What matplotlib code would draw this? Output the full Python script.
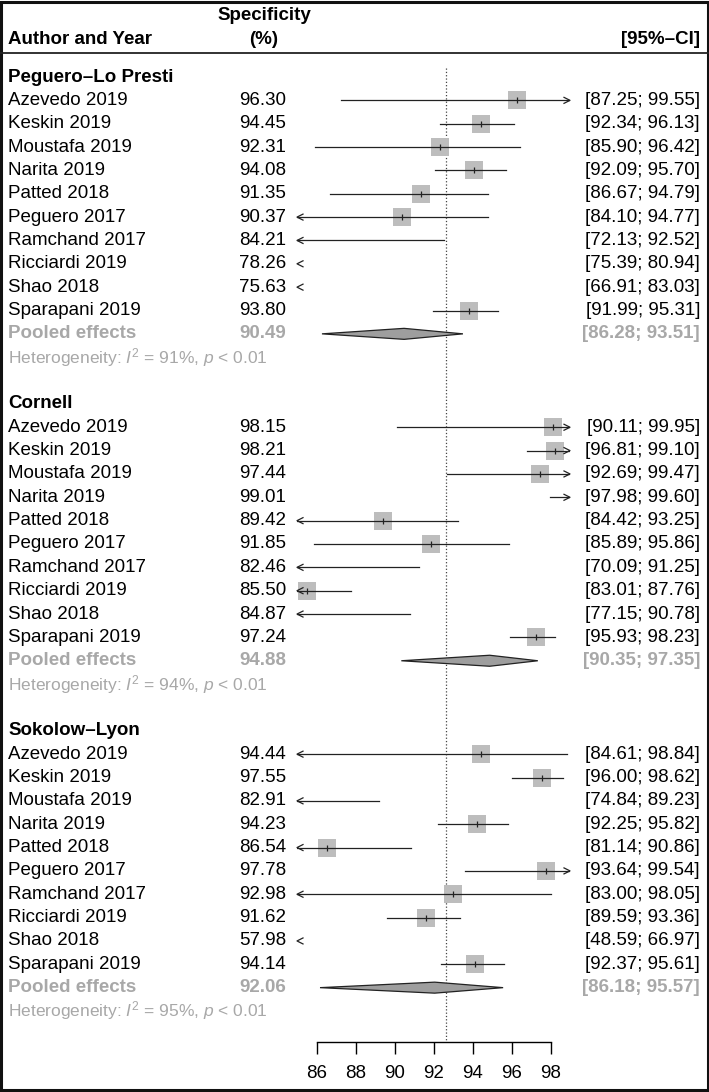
import matplotlib
matplotlib.use("Agg")
import matplotlib.pyplot as plt
from matplotlib.patches import Polygon, Rectangle
from matplotlib.transforms import blended_transform_factory

plt.rcParams['font.family'] = ['Liberation Sans', 'DejaVu Sans']
plt.rcParams['mathtext.fontset'] = 'custom'
plt.rcParams['mathtext.rm'] = 'Liberation Sans'
plt.rcParams['mathtext.it'] = 'Liberation Sans:italic'

# Data
studies = ['Azevedo 2019', 'Keskin 2019', 'Moustafa 2019', 'Narita 2019', 'Patted 2018',
           'Peguero 2017', 'Ramchand 2017', 'Ricciardi 2019', 'Shao 2018', 'Sparapani 2019']
groups = ['Peguero–Lo Presti', 'Cornell', 'Sokolow–Lyon']

peguero_est = [96.30, 94.45, 92.31, 94.08, 91.35, 90.37, 84.21, 78.26, 75.63, 93.80]
peguero_lo = [87.25, 92.34, 85.90, 92.09, 86.67, 84.10, 72.13, 75.39, 66.91, 91.99]
peguero_hi = [99.55, 96.13, 96.42, 95.70, 94.79, 94.77, 92.52, 80.94, 83.03, 95.31]

cornell_est = [98.15, 98.21, 97.44, 99.01, 89.42, 91.85, 82.46, 85.50, 84.87, 97.24]
cornell_lo = [90.11, 96.81, 92.69, 97.98, 84.42, 85.89, 70.09, 83.01, 77.15, 95.93]
cornell_hi = [99.95, 99.10, 99.47, 99.60, 93.25, 95.86, 91.25, 87.76, 90.78, 98.23]

sokolow_est = [94.44, 97.55, 82.91, 94.23, 86.54, 97.78, 92.98, 91.62, 57.98, 94.14]
sokolow_lo = [84.61, 96.00, 74.84, 92.25, 81.14, 93.64, 83.00, 89.59, 48.59, 92.37]
sokolow_hi = [98.84, 98.62, 89.23, 95.82, 90.86, 99.54, 98.05, 93.36, 66.97, 95.61]

pooled_est = [90.49, 94.88, 92.06]
pooled_lo = [86.28, 90.35, 86.18]
pooled_hi = [93.51, 97.35, 95.57]
i2 = [91, 94, 95]

ref_line = 92.65
xticks = [86, 88, 90, 92, 94, 96, 98]

group_data = [(peguero_est, peguero_lo, peguero_hi),
              (cornell_est, cornell_lo, cornell_hi),
              (sokolow_est, sokolow_lo, sokolow_hi)]

# Layout (pixels)
W, H = 709, 1092
ROW0, ROW_PX = 77, 23.35
X_LO, X_HI = 85, 99
PX_LEFT, PX_RIGHT = 297, 570
PX_TOP, PX_BOT = 60, 1042
px_per_x = (PX_RIGHT - PX_LEFT) / (X_HI - X_LO)

def r_of(py):
    return (py - ROW0) / ROW_PX

fig = plt.figure(figsize=(W / 100, H / 100), dpi=100)
ax = fig.add_axes([PX_LEFT / W, 1 - PX_BOT / H, (PX_RIGHT - PX_LEFT) / W, (PX_BOT - PX_TOP) / H])
ax.set_xlim(X_LO, X_HI)
ax.set_ylim(r_of(PX_BOT), r_of(PX_TOP))
for s in ['top', 'left', 'right']:
    ax.spines[s].set_visible(False)
ax.spines['bottom'].set_bounds(86, 98)
ax.spines['bottom'].set_linewidth(1.0)
ax.set_yticks([])
ax.set_xticks(xticks)
ax.tick_params(axis='x', direction='out', length=8.6, width=1.0, pad=8, labelsize=13.5)
ax.patch.set_visible(False)

ax.plot([ref_line, ref_line], [r_of(68), r_of(PX_BOT)], linestyle=':', color='#444444', lw=0.9, zorder=1)

tr = blended_transform_factory(fig.transFigure, ax.transData)
FS = 13.5
GREY = '#A8A8A8'
x_lab, x_val, x_ci = 8 / W, 239 / W, 700 / W

hx = 6 / px_per_x
hy = 3 / ROW_PX

def arrow_head(x, r, direction):
    ax.plot([x - direction * hx, x, x - direction * hx], [r - hy, r, r + hy],
            color='#222222', lw=0.9, clip_on=False, zorder=3)

# header
fig.text(x_lab, -1.585, 'Author and Year', transform=tr, fontsize=FS, fontweight='bold', va='center')
fig.text(264 / W, -2.655, 'Specificity', transform=tr, fontsize=FS, fontweight='bold', va='center', ha='center')
fig.text(264 / W, -1.585, '(%)', transform=tr, fontsize=FS, fontweight='bold', va='center', ha='center')
fig.text(x_ci, -1.585, '[95%–CI]', transform=tr, fontsize=FS, fontweight='bold', va='center', ha='right')
fig.add_artist(plt.Line2D([0, 1], [1 - 53 / H, 1 - 53 / H], transform=fig.transFigure, color='#222222', lw=1.3))

for g, (name, (est, lo, hi)) in enumerate(zip(groups, group_data)):
    base = g * 14
    fig.text(x_lab, base, name, transform=tr, fontsize=FS, fontweight='bold', va='center')
    for i, study in enumerate(studies):
        r = base + 1 + i
        fig.text(x_lab, r, study, transform=tr, fontsize=FS, va='center')
        fig.text(x_val, r, f'{est[i]:.2f}', transform=tr, fontsize=FS, va='center')
        fig.text(x_ci, r, f'[{lo[i]:.2f}; {hi[i]:.2f}]', transform=tr, fontsize=FS, va='center', ha='right')
        if X_LO <= est[i] <= X_HI:
            ax.plot(est[i], r, marker='s', markersize=13, color='#BDBDBD', markeredgewidth=0, zorder=2)
            ax.plot(est[i], r, marker='|', markersize=4, color='#222222', markeredgewidth=0.9, zorder=4)
        if hi[i] < X_LO:
            arrow_head(X_LO, r, -1)
            continue
        if lo[i] > X_HI:
            arrow_head(X_HI, r, 1)
            continue
        a, b = max(lo[i], X_LO), min(hi[i], X_HI)
        ax.plot([a, b], [r, r], color='#222222', lw=0.9, zorder=3)
        if lo[i] < X_LO:
            arrow_head(X_LO, r, -1)
        if hi[i] > X_HI:
            arrow_head(X_HI, r, 1)
    r = base + 11
    fig.text(x_lab, r, 'Pooled effects', transform=tr, fontsize=FS, fontweight='bold', va='center', color=GREY)
    fig.text(x_val, r, f'{pooled_est[g]:.2f}', transform=tr, fontsize=FS, fontweight='bold', va='center', color=GREY)
    fig.text(x_ci, r, f'[{pooled_lo[g]:.2f}; {pooled_hi[g]:.2f}]', transform=tr, fontsize=FS,
             fontweight='bold', va='center', ha='right', color=GREY)
    dh = 5.5 / ROW_PX
    ax.add_patch(Polygon([(pooled_lo[g], r), (pooled_est[g], r - dh), (pooled_hi[g], r), (pooled_est[g], r + dh)],
                         closed=True, facecolor='#9E9E9E', edgecolor='#222222', lw=0.9, zorder=3))
    fig.text(x_lab, base + 12, f'Heterogeneity: $I^2$ = {i2[g]}%, $p$ < 0.01', transform=tr,
             fontsize=12.5, va='center', color=GREY)

fig.add_artist(Rectangle((0.0015, 0.0015), 0.997, 0.997, transform=fig.transFigure,
                         fill=False, edgecolor='#111111', lw=2.2))

fig.savefig('out.png', dpi=100)
